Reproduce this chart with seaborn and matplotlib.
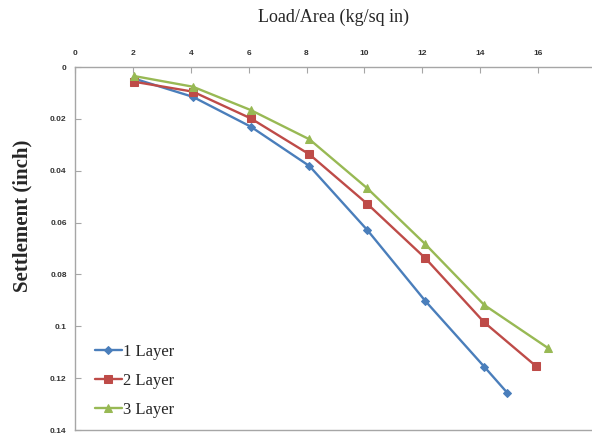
import numpy as np
import pandas as pd
import matplotlib
matplotlib.use("Agg")
import matplotlib.pyplot as plt
import seaborn as sns

# Data
load_1 = [2.05, 4.07, 6.07, 8.1, 10.1, 12.1, 14.14, 14.93]
load_2 = [2.05, 4.07, 6.07, 8.1, 10.1, 12.1, 14.14, 15.92]
load_3 = [2.05, 4.07, 6.07, 8.1, 10.1, 12.1, 14.14, 16.33]
settle_1 = [0.0045, 0.0115, 0.0230, 0.0382, 0.0629, 0.0902, 0.1156, 0.1256]
settle_2 = [0.0057, 0.0095, 0.0198, 0.0337, 0.0528, 0.0737, 0.0985, 0.1153]
settle_3 = [0.0035, 0.0076, 0.0166, 0.0279, 0.0468, 0.0683, 0.0918, 0.1083]
series_names = ["1 Layer", "2 Layer", "3 Layer"]
x_ticks = [0, 2, 4, 6, 8, 10, 12, 14, 16, 18]
y_ticks = [0, 0.02, 0.04, 0.06, 0.08, 0.1, 0.12, 0.14]
y_tick_labels = ["0", "0.02", "0.04", "0.06", "0.08", "0.1", "0.12", "0.14"]

df = pd.concat([
    pd.DataFrame({"load": load_1, "settle": settle_1, "series": series_names[0]}),
    pd.DataFrame({"load": load_2, "settle": settle_2, "series": series_names[1]}),
    pd.DataFrame({"load": load_3, "settle": settle_3, "series": series_names[2]}),
], ignore_index=True)

sns.set_style("white")
W, H = 592, 436
fig = plt.figure(figsize=(W / 100, H / 100), dpi=100)
ax_left, ax_right, ax_top, ax_bottom = 75, 596, 67, 430
ax = fig.add_axes([ax_left / W, 1 - ax_bottom / H, (ax_right - ax_left) / W, (ax_bottom - ax_top) / H])

palette = {"1 Layer": "#4A7EBB", "2 Layer": "#BE4B48", "3 Layer": "#98B954"}
markers = {"1 Layer": "D", "2 Layer": "s", "3 Layer": "^"}
sizes_m = {"1 Layer": 4, "2 Layer": 5.5, "3 Layer": 6}

for name in series_names:
    sub = df[df["series"] == name]
    sns.lineplot(data=sub, x="load", y="settle", ax=ax, color=palette[name],
                 marker=markers[name], markersize=sizes_m[name],
                 markeredgecolor=palette[name], linewidth=1.7, sort=False,
                 label=name, estimator=None)

ax.set_xlim(0, 18)
ax.set_ylim(0.14, 0)
ax.xaxis.tick_top()
ax.set_xticks(x_ticks)
ax.set_xticklabels([str(v) for v in x_ticks])
ax.set_yticks(y_ticks)
ax.set_yticklabels(y_tick_labels)
ax.set_xlabel("")
ax.set_ylabel("")

for s in ["top", "left", "bottom", "right"]:
    ax.spines[s].set_color("#A6A6A6")
    ax.spines[s].set_linewidth(1.0)

ax.tick_params(axis="x", which="both", direction="in", length=4, color="#A6A6A6",
               pad=7, labelsize=6, labelcolor="#333333", top=True, bottom=False)
ax.tick_params(axis="y", which="both", direction="in", length=4, color="#A6A6A6",
               pad=6, labelsize=6, labelcolor="#333333", left=True)
for lab in ax.get_xticklabels() + ax.get_yticklabels():
    lab.set_fontfamily("Liberation Sans")
    lab.set_fontweight("bold")

fig.text(333 / W, 1 - 17 / H, "Load/Area (kg/sq in)", ha="center", va="center",
         fontsize=13, family="Liberation Serif")
fig.text(22 / W, 1 - 216 / H, "Settlement (inch)", ha="center", va="center",
         rotation=90, fontsize=15, family="Liberation Serif", fontweight="bold")

leg = ax.legend(loc="upper left", bbox_to_anchor=(95 / W, 1 - 344 / H),
                bbox_transform=fig.transFigure, frameon=False,
                prop={"family": "Liberation Serif", "size": 12},
                handlelength=1.6, handletextpad=0.1, labelspacing=0.78,
                borderpad=0, borderaxespad=0)

fig.savefig("out.png", dpi=100)
